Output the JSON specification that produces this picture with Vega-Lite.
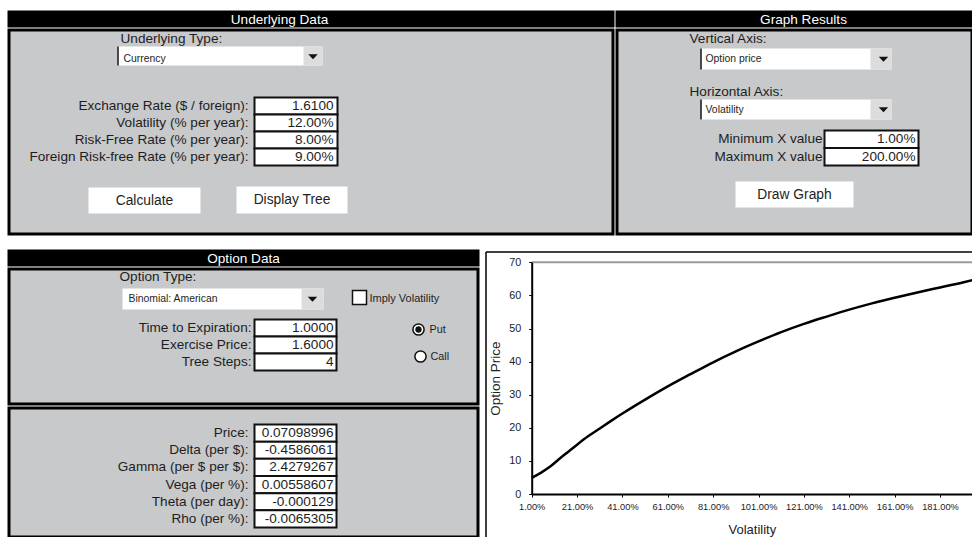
{
  "$schema": "https://vega.github.io/schema/vega-lite/v6.json",
  "padding": {"left": 7, "top": 10, "right": 0, "bottom": 0},
  "background": "white",
  "spacing": 13,
  "datasets": {
    "underlying": [
      {"order": 1, "label": "Exchange Rate ($ / foreign):", "value": "1.6100"},
      {"order": 2, "label": "Volatility (% per year):", "value": "12.00%"},
      {"order": 3, "label": "Risk-Free Rate (% per year):", "value": "8.00%"},
      {"order": 4, "label": "Foreign Risk-free Rate (% per year):", "value": "9.00%"}
    ],
    "graphx": [
      {"order": 1, "label": "Minimum X value", "value": "1.00%"},
      {"order": 2, "label": "Maximum X value", "value": "200.00%"}
    ],
    "option": [
      {"order": 1, "label": "Time to Expiration:", "value": "1.0000"},
      {"order": 2, "label": "Exercise Price:", "value": "1.6000"},
      {"order": 3, "label": "Tree Steps:", "value": "4"}
    ],
    "results": [
      {"order": 1, "label": "Price:", "value": "0.07098996"},
      {"order": 2, "label": "Delta (per $):", "value": "-0.4586061"},
      {"order": 3, "label": "Gamma (per $ per $):", "value": "2.4279267"},
      {"order": 4, "label": "Vega (per %):", "value": "0.00558607"},
      {"order": 5, "label": "Theta (per day):", "value": "-0.000129"},
      {"order": 6, "label": "Rho (per %):", "value": "-0.0065305"}
    ],
    "curve": [
      {"vol": 1, "price": 4.9}, {"vol": 5, "price": 6.4}, {"vol": 9, "price": 8.2},
      {"vol": 13, "price": 10.5}, {"vol": 17, "price": 12.7}, {"vol": 21, "price": 14.9},
      {"vol": 26, "price": 17.5}, {"vol": 31, "price": 19.8}, {"vol": 36, "price": 22.1},
      {"vol": 41, "price": 24.3}, {"vol": 51, "price": 28.5}, {"vol": 61, "price": 32.5},
      {"vol": 71, "price": 36.2}, {"vol": 81, "price": 39.8}, {"vol": 91, "price": 43.1},
      {"vol": 101, "price": 46.1}, {"vol": 111, "price": 48.9}, {"vol": 121, "price": 51.4},
      {"vol": 131, "price": 53.6}, {"vol": 141, "price": 55.7}, {"vol": 151, "price": 57.6},
      {"vol": 161, "price": 59.3}, {"vol": 171, "price": 60.9}, {"vol": 181, "price": 62.4},
      {"vol": 191, "price": 63.9}, {"vol": 196, "price": 64.7}
    ]
  },
  "vconcat": [
    {
      "spacing": 0,
      "hconcat": [
        {
          "spacing": 0,
          "vconcat": [
            {
              "width": 604, "height": 14,
              "view": {"fill": "black", "stroke": "black", "strokeWidth": 3},
              "data": {"values": [{"t": "Underlying Data"}]},
              "mark": {"type": "text", "color": "white", "align": "center"},
              "encoding": {"text": {"field": "t"}, "x": {"value": 270.5}, "y": {"value": 7.5}}
            },
            {
              "width": 604, "height": 204,
              "data": {"values": [{}]},
              "layer": [
                {"mark": {"type": "text", "align": "left", "text": "Underlying Type:"}, "encoding": {"x": {"value": 111.5}, "y": {"value": 8.5}}},
                {"mark": {"type": "rect", "fill": "white"}, "encoding": {"x": {"value": 108.5}, "x2": {"value": 313.5}, "y": {"value": 16.5}, "y2": {"value": 35.5}}},
                {"mark": {"type": "rect", "fill": "#dcdcdc"}, "encoding": {"x": {"value": 294.5}, "x2": {"value": 313.5}, "y": {"value": 16.5}, "y2": {"value": 35.5}}},
                {"mark": {"type": "rule", "color": "#111", "strokeWidth": 1.5}, "encoding": {"x": {"value": 109}, "y": {"value": 16.5}, "y2": {"value": 35.5}}},
                {"mark": {"type": "point", "shape": "M-1,-0.5L1,-0.5L0,0.6Z", "filled": true, "color": "#111", "size": 90, "opacity": 1}, "encoding": {"x": {"value": 304}, "y": {"value": 26.5}}},
                {"mark": {"type": "text", "align": "left", "fontSize": 10.4, "text": "Currency"}, "encoding": {"x": {"value": 114.5}, "y": {"value": 28.5}}},
                {
                  "data": {"name": "underlying"},
                  "encoding": {"y": {"field": "order", "type": "ordinal", "axis": null, "scale": {"type": "band", "range": [67.5, 135.5], "paddingInner": 0, "paddingOuter": 0}}},
                  "layer": [
                    {"mark": {"type": "rect", "fill": "white", "stroke": "#111", "strokeWidth": 2}, "encoding": {"x": {"value": 245.5}, "x2": {"value": 328.5}}},
                    {"mark": {"type": "text", "align": "right"}, "encoding": {"text": {"field": "label"}, "x": {"value": 239.5}}},
                    {"mark": {"type": "text", "align": "right"}, "encoding": {"text": {"field": "value"}, "x": {"value": 324.5}}}
                  ]
                },
                {"mark": {"type": "rect", "fill": "white"}, "encoding": {"x": {"value": 79.5}, "x2": {"value": 191.5}, "y": {"value": 157.5}, "y2": {"value": 183.5}}},
                {"mark": {"type": "rect", "fill": "white"}, "encoding": {"x": {"value": 227.5}, "x2": {"value": 338.5}, "y": {"value": 156.5}, "y2": {"value": 183.5}}},
                {"mark": {"type": "text", "align": "center", "fontSize": 13.8, "text": "Calculate"}, "encoding": {"x": {"value": 135.5}, "y": {"value": 170.5}}},
                {"mark": {"type": "text", "align": "center", "fontSize": 13.8, "text": "Display Tree"}, "encoding": {"x": {"value": 283}, "y": {"value": 169.5}}}
              ]
            }
          ]
        },
        {
          "spacing": 0,
          "vconcat": [
            {
              "width": 355, "height": 14,
              "view": {"fill": "black", "stroke": "black", "strokeWidth": 3},
              "data": {"values": [{"t": "Graph Results"}]},
              "mark": {"type": "text", "color": "white", "align": "center"},
              "encoding": {"text": {"field": "t"}, "x": {"value": 186.5}, "y": {"value": 7.5}}
            },
            {
              "width": 355, "height": 204,
              "data": {"values": [{}]},
              "layer": [
                {"mark": {"type": "text", "align": "left", "text": "Vertical Axis:"}, "encoding": {"x": {"value": 72.5}, "y": {"value": 8.5}}},
                {"mark": {"type": "rect", "fill": "white"}, "encoding": {"x": {"value": 83.5}, "x2": {"value": 274.5}, "y": {"value": 18.5}, "y2": {"value": 39.5}}},
                {"mark": {"type": "rect", "fill": "#dcdcdc"}, "encoding": {"x": {"value": 253.5}, "x2": {"value": 274.5}, "y": {"value": 18.5}, "y2": {"value": 39.5}}},
                {"mark": {"type": "rule", "color": "#111", "strokeWidth": 1.5}, "encoding": {"x": {"value": 84}, "y": {"value": 18.5}, "y2": {"value": 39.5}}},
                {"mark": {"type": "point", "shape": "M-1,-0.5L1,-0.5L0,0.6Z", "filled": true, "color": "#111", "size": 90, "opacity": 1}, "encoding": {"x": {"value": 266.5}, "y": {"value": 29}}},
                {"mark": {"type": "text", "align": "left", "fontSize": 10.4, "text": "Option price"}, "encoding": {"x": {"value": 88.5}, "y": {"value": 28.5}}},
                {"mark": {"type": "text", "align": "left", "text": "Horizontal Axis:"}, "encoding": {"x": {"value": 72.5}, "y": {"value": 61.5}}},
                {"mark": {"type": "rect", "fill": "white"}, "encoding": {"x": {"value": 83.5}, "x2": {"value": 274.5}, "y": {"value": 69.5}, "y2": {"value": 89.5}}},
                {"mark": {"type": "rect", "fill": "#dcdcdc"}, "encoding": {"x": {"value": 253.5}, "x2": {"value": 274.5}, "y": {"value": 69.5}, "y2": {"value": 89.5}}},
                {"mark": {"type": "rule", "color": "#111", "strokeWidth": 1.5}, "encoding": {"x": {"value": 84}, "y": {"value": 69.5}, "y2": {"value": 89.5}}},
                {"mark": {"type": "point", "shape": "M-1,-0.5L1,-0.5L0,0.6Z", "filled": true, "color": "#111", "size": 90, "opacity": 1}, "encoding": {"x": {"value": 266.5}, "y": {"value": 79.5}}},
                {"mark": {"type": "text", "align": "left", "fontSize": 10.4, "text": "Volatility"}, "encoding": {"x": {"value": 88.5}, "y": {"value": 79.5}}},
                {
                  "data": {"name": "graphx"},
                  "encoding": {"y": {"field": "order", "type": "ordinal", "axis": null, "scale": {"type": "band", "range": [100.5, 135.5], "paddingInner": 0, "paddingOuter": 0}}},
                  "layer": [
                    {"mark": {"type": "rect", "fill": "white", "stroke": "#111", "strokeWidth": 2}, "encoding": {"x": {"value": 207.5}, "x2": {"value": 301.5}}},
                    {"mark": {"type": "text", "align": "right"}, "encoding": {"text": {"field": "label"}, "x": {"value": 205.5}}},
                    {"mark": {"type": "text", "align": "right"}, "encoding": {"text": {"field": "value"}, "x": {"value": 298.5}}}
                  ]
                },
                {"mark": {"type": "rect", "fill": "white"}, "encoding": {"x": {"value": 118.5}, "x2": {"value": 236.5}, "y": {"value": 151.5}, "y2": {"value": 177.5}}},
                {"mark": {"type": "text", "align": "center", "fontSize": 13.8, "text": "Draw Graph"}, "encoding": {"x": {"value": 177.5}, "y": {"value": 164.5}}}
              ]
            }
          ]
        }
      ]
    },
    {
      "spacing": 5,
      "hconcat": [
        {
          "spacing": 0,
          "vconcat": [
            {
              "width": 469, "height": 14,
              "view": {"fill": "black", "stroke": "black", "strokeWidth": 3},
              "data": {"values": [{"t": "Option Data"}]},
              "mark": {"type": "text", "color": "white", "align": "center"},
              "encoding": {"text": {"field": "t"}, "x": {"value": 234.5}, "y": {"value": 7.5}}
            },
            {
              "width": 469, "height": 135,
              "data": {"values": [{}]},
              "layer": [
                {"mark": {"type": "text", "align": "left", "text": "Option Type:"}, "encoding": {"x": {"value": 110.5}, "y": {"value": 7.5}}},
                {"mark": {"type": "rect", "fill": "white"}, "encoding": {"x": {"value": 113.5}, "x2": {"value": 314.5}, "y": {"value": 19.5}, "y2": {"value": 40.5}}},
                {"mark": {"type": "rect", "fill": "#dcdcdc"}, "encoding": {"x": {"value": 292.5}, "x2": {"value": 314.5}, "y": {"value": 19.5}, "y2": {"value": 40.5}}},
                {"mark": {"type": "point", "shape": "M-1,-0.5L1,-0.5L0,0.6Z", "filled": true, "color": "#111", "size": 90, "opacity": 1}, "encoding": {"x": {"value": 303.5}, "y": {"value": 30}}},
                {"mark": {"type": "text", "align": "left", "fontSize": 10.4, "text": "Binomial: American"}, "encoding": {"x": {"value": 119.5}, "y": {"value": 29.5}}},
                {"mark": {"type": "rect", "fill": "white", "stroke": "#111", "strokeWidth": 1.5}, "encoding": {"x": {"value": 343.5}, "x2": {"value": 357.5}, "y": {"value": 21.5}, "y2": {"value": 35.5}}},
                {"mark": {"type": "text", "align": "left", "fontSize": 11, "text": "Imply Volatility"}, "encoding": {"x": {"value": 360.5}, "y": {"value": 29.5}}},
                {
                  "data": {"name": "option"},
                  "encoding": {"y": {"field": "order", "type": "ordinal", "axis": null, "scale": {"type": "band", "range": [50.5, 101.5], "paddingInner": 0, "paddingOuter": 0}}},
                  "layer": [
                    {"mark": {"type": "rect", "fill": "white", "stroke": "#111", "strokeWidth": 2}, "encoding": {"x": {"value": 245.5}, "x2": {"value": 327.5}}},
                    {"mark": {"type": "text", "align": "right"}, "encoding": {"text": {"field": "label"}, "x": {"value": 242.5}}},
                    {"mark": {"type": "text", "align": "right"}, "encoding": {"text": {"field": "value"}, "x": {"value": 324.5}}}
                  ]
                },
                {"mark": {"type": "point", "shape": "circle", "filled": true, "fill": "white", "stroke": "#111", "strokeWidth": 1.5, "size": 125, "opacity": 1}, "encoding": {"x": {"value": 409.5}, "y": {"value": 60.5}}},
                {"mark": {"type": "point", "shape": "circle", "filled": true, "color": "#111", "size": 40, "opacity": 1}, "encoding": {"x": {"value": 409.5}, "y": {"value": 60.5}}},
                {"mark": {"type": "text", "align": "left", "fontSize": 10.8, "text": "Put"}, "encoding": {"x": {"value": 420.5}, "y": {"value": 61}}},
                {"mark": {"type": "point", "shape": "circle", "filled": true, "fill": "white", "stroke": "#111", "strokeWidth": 1.5, "size": 125, "opacity": 1}, "encoding": {"x": {"value": 411.5}, "y": {"value": 87.5}}},
                {"mark": {"type": "text", "align": "left", "fontSize": 10.8, "text": "Call"}, "encoding": {"x": {"value": 421.5}, "y": {"value": 88}}}
              ]
            },
            {
              "width": 469, "height": 129,
              "data": {"name": "results"},
              "encoding": {"y": {"field": "order", "type": "ordinal", "axis": null, "scale": {"type": "band", "range": [16.5, 119.5], "paddingInner": 0, "paddingOuter": 0}}},
              "layer": [
                {"mark": {"type": "rect", "fill": "white", "stroke": "#111", "strokeWidth": 2}, "encoding": {"x": {"value": 245.5}, "x2": {"value": 327.5}}},
                {"mark": {"type": "text", "align": "right"}, "encoding": {"text": {"field": "label"}, "x": {"value": 239.5}}},
                {"mark": {"type": "text", "align": "right"}, "encoding": {"text": {"field": "value"}, "x": {"value": 324.5}}}
              ]
            }
          ]
        },
        {
          "width": 488, "height": 287,
          "view": {"fill": "white", "stroke": null},
          "layer": [
            {
              "data": {"values": [{}]},
              "mark": {"type": "rule", "color": "black", "strokeWidth": 1.5},
              "encoding": {"x": {"value": 1}, "y": {"value": 1}, "y2": {"value": 286}}
            },
            {
              "data": {"values": [{}]},
              "mark": {"type": "rule", "color": "black", "strokeWidth": 1.5},
              "encoding": {"y": {"value": 1}, "x": {"value": 1}, "x2": {"value": 487}}
            },
            {
              "data": {"values": [{}]},
              "mark": {"type": "rule", "color": "#9a9a9a", "strokeWidth": 2},
              "encoding": {"y": {"datum": 70}, "x": {"datum": 1}, "x2": {"datum": 195.1}}
            },
            {
              "data": {"name": "curve"},
              "mark": {"type": "line", "color": "black", "strokeWidth": 2.5, "clip": true, "interpolate": "monotone"},
              "encoding": {
                "x": {
                  "field": "vol", "type": "quantitative",
                  "scale": {"domain": [1, 195.1], "range": [46.7, 487], "nice": false, "zero": false},
                  "axis": {
                    "title": "Volatility", "values": [1, 21, 41, 61, 81, 101, 121, 141, 161, 181],
                    "labelExpr": "format(datum.value, '.2f') + '%'",
                    "offset": -44, "grid": false, "domainColor": "black", "domainWidth": 2,
                    "tickColor": "black", "tickSize": 3, "tickWidth": 1,
                    "labelFontSize": 9.3, "labelColor": "#222", "labelPadding": 5, "labelFlush": false, "labelOverlap": false,
                    "titleFontSize": 13, "titleFontWeight": "normal", "titleColor": "#222", "titlePadding": 12, "zindex": 1
                  }
                },
                "y": {
                  "field": "price", "type": "quantitative",
                  "scale": {"domain": [0, 70], "range": [243, 11.3], "nice": false},
                  "axis": {
                    "title": "Option Price", "values": [0, 10, 20, 30, 40, 50, 60, 70],
                    "offset": -46.7, "grid": false, "domainColor": "black", "domainWidth": 2,
                    "tickColor": "black", "tickSize": 3, "tickWidth": 1,
                    "labelFontSize": 10.8, "labelColor": "#222", "labelPadding": 8,
                    "titleFontSize": 13.5, "titleFontWeight": "normal", "titleColor": "#222", "titlePadding": 6, "zindex": 1
                  }
                }
              }
            }
          ]
        }
      ]
    }
  ],
  "config": {
    "font": "Liberation Sans",
    "view": {"fill": "#c8c9cb", "stroke": "black", "strokeWidth": 3},
    "text": {"font": "Liberation Sans", "fontSize": 13.6, "color": "#1e1e1e", "baseline": "middle"},
    "axis": {"labelFont": "Liberation Sans", "titleFont": "Liberation Sans"}
  }
}
